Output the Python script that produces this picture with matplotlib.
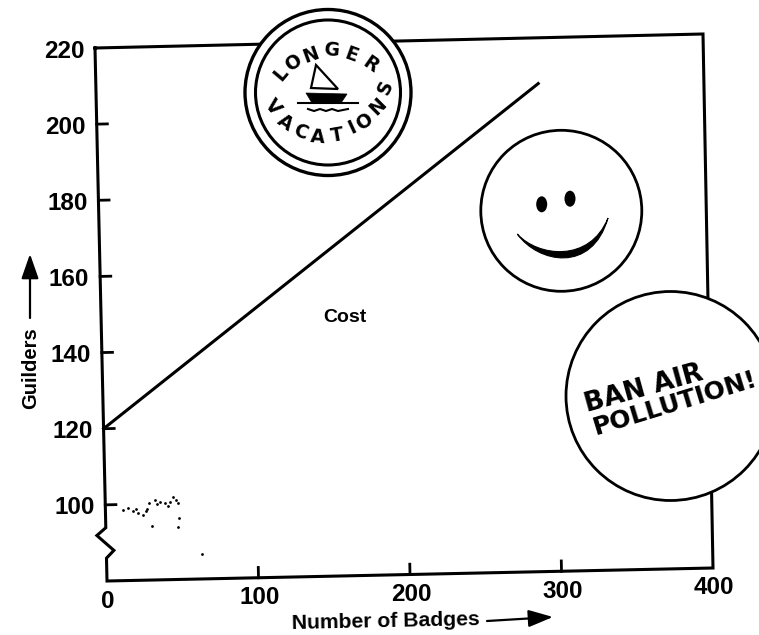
#coding:utf8

import numpy as np
import matplotlib
matplotlib.use("Agg")
import matplotlib.pyplot as plt
from matplotlib.patches import Circle, Ellipse, PathPatch, Polygon
from matplotlib.path import Path
from matplotlib.transforms import Transform

plt.rcParams['font.family'] = ['Liberation Sans', 'DejaVu Sans']

# Data
x_ticks = [0, 100, 200, 300, 400]
y_ticks = [100, 120, 140, 160, 180, 200, 220]
cost_badges = [0, 291]
cost_guilders = [120, 208]
break_badges = [0, -6, 5, 0]
break_guilders = [94, 92, 88, 86]

# Scanned page is a bit crooked: data values go to page pixels through the four corners
class ScanTransform(Transform):
    input_dims = 2
    output_dims = 2

    def transform_non_affine(self, values):
        values = np.asarray(values, dtype=float)
        u = values[:, 0] / 400
        v = (values[:, 1] - 80) / 140
        px = (1-u)*(1-v)*107 + u*(1-v)*713 + (1-u)*v*95 + u*v*703
        py = (1-u)*(1-v)*581 + u*(1-v)*568 + (1-u)*v*48 + u*v*34
        return np.column_stack([px, py])

fig = plt.figure(figsize=(7.59, 6.35), dpi=100)
ax = fig.add_axes([0, 0, 1, 1])
ax.set_xlim(0, 759)
ax.set_ylim(635, 0)
ax.axis('off')

scan = ScanTransform()
data = scan + ax.transData

# Frame with broken y axis
frame_x = [0] + break_badges + [0, 400, 400, 0, 0]
frame_y = [220] + break_guilders + [80, 80, 220, 220, 220]
ax.plot(frame_x, frame_y, color='black', lw=2.2, transform=data, solid_joinstyle='miter', zorder=2)

for t in x_ticks[1:-1]:
    ax.plot([t, t], [80, 82.7], color='black', lw=2, transform=data, zorder=2)
for t in y_ticks[:-1]:
    ax.plot([0, 7], [t, t], color='black', lw=2, transform=data, zorder=2)

for t in x_ticks:
    px, py = scan.transform_non_affine([[t, 80]])[0]
    ax.text(px + 1, py + 20, str(t), fontsize=17.5, fontweight='bold', ha='center', va='center')
for t in y_ticks:
    px, py = scan.transform_non_affine([[0, t]])[0]
    ax.text(px - 31, py + 3, str(t), fontsize=17.5, fontweight='bold', ha='center', va='center')

# Cost line
ax.plot(cost_badges, cost_guilders, color='black', lw=2.2, transform=data, zorder=3)
ax.text(345, 317, "Cost", fontsize=14, fontweight='bold', ha='center', va='center')

# Axis titles
arrow = dict(arrowstyle='-|>,head_length=1,head_width=0.35', color='black', lw=1.6,
             shrinkA=0, shrinkB=0, mutation_scale=15)
ax.text(386, 622, "Number of Badges", fontsize=15.2, fontweight='bold', rotation=1.2, ha='center', va='center')
ax.annotate("", xy=(553, 617), xytext=(487, 621), arrowprops=arrow)
ax.text(31, 368, "Guilders", fontsize=14.5, fontweight='bold', rotation=90, ha='center', va='center')
ax.annotate("", xy=(30, 254), xytext=(30, 318), arrowprops=arrow)

# Longer vacations badge
ax.add_patch(Circle((328, 92.5), 83, fc='white', ec='black', lw=2.4, zorder=4))
ax.add_patch(Circle((328, 92.5), 72.5, fc='white', ec='black', lw=2.2, zorder=4))
badge_letters = ["L", "O", "N", "G", "E", "R", "V", "A", "C", "A", "T", "I", "O", "N", "S"]
badge_x = [281, 293, 311, 331, 351, 370, 273, 285, 300, 318, 337, 352, 364, 378, 385]
badge_y = [74, 63, 55, 50, 55, 65, 107, 123, 132, 137, 135, 128, 122, 107, 88]
badge_rot = [50, 35, 20, -5, -20, -35, -50, -35, -20, -5, 10, 25, 35, 45, 65]
for c, bx, by, r in zip(badge_letters, badge_x, badge_y, badge_rot):
    ax.text(bx, by, c, family='DejaVu Sans', fontsize=13.5, fontweight='bold', rotation=r,
            ha='center', va='center', zorder=5)

# Boat
ax.add_patch(Polygon([(316, 65), (311, 88), (338, 89)], fc='white', ec='black', lw=1.6, zorder=5))
ax.add_patch(Polygon([(306, 93), (347, 94), (341, 103), (312, 103)], fc='black', ec='black', lw=0.5, zorder=5))
ax.plot([298, 358], [102.5, 102.5], color='black', lw=1.5, zorder=5)
ax.plot([308, 314, 320, 326, 332, 338, 348], [109, 111, 109, 111, 109, 111, 109], color='black', lw=1.5, zorder=5)

# Smiley
ax.add_patch(Circle((561.3, 210.8), 80.5, fc='white', ec='black', lw=2.0, zorder=4))
ax.add_patch(Ellipse((541.7, 204.3), 11, 16, fc='black', ec='none', zorder=5))
ax.add_patch(Ellipse((570, 198.7), 11, 16, fc='black', ec='none', zorder=5))
mouth = Path([(517.3, 234), (538, 263), (592, 274), (608, 218),
              (590, 263), (538, 257), (517.3, 234)],
             [Path.MOVETO, Path.CURVE4, Path.CURVE4, Path.CURVE4,
              Path.CURVE4, Path.CURVE4, Path.CURVE4])
ax.add_patch(PathPatch(mouth, fc='black', ec='black', lw=0.8, zorder=5))

# Ban air pollution badge
ax.add_patch(Circle((670.5, 396), 104.5, fc='white', ec='black', lw=2.0, zorder=4))
ax.text(644, 389, "BAN AIR", family='DejaVu Sans', fontsize=19, fontweight='bold', rotation=15.5,
        ha='center', va='center', zorder=5)
ax.text(675, 403, "POLLUTION!", family='DejaVu Sans', fontsize=18, fontweight='bold', rotation=17,
        ha='center', va='center', zorder=5)

# Scanner dirt
speck_x = [123, 128, 133, 136, 138, 143, 146, 147, 149, 155, 157, 160, 165, 168, 170, 173, 176, 178, 152, 179, 178, 202]
speck_y = [510, 508, 511, 509, 513, 515, 511, 509, 503, 500, 504, 502, 503, 506, 502, 497, 500, 503, 526, 518, 527, 554]
ax.scatter(speck_x, speck_y, s=4, color='black', linewidths=0, zorder=1)

fig.savefig("out.png", dpi=100)
